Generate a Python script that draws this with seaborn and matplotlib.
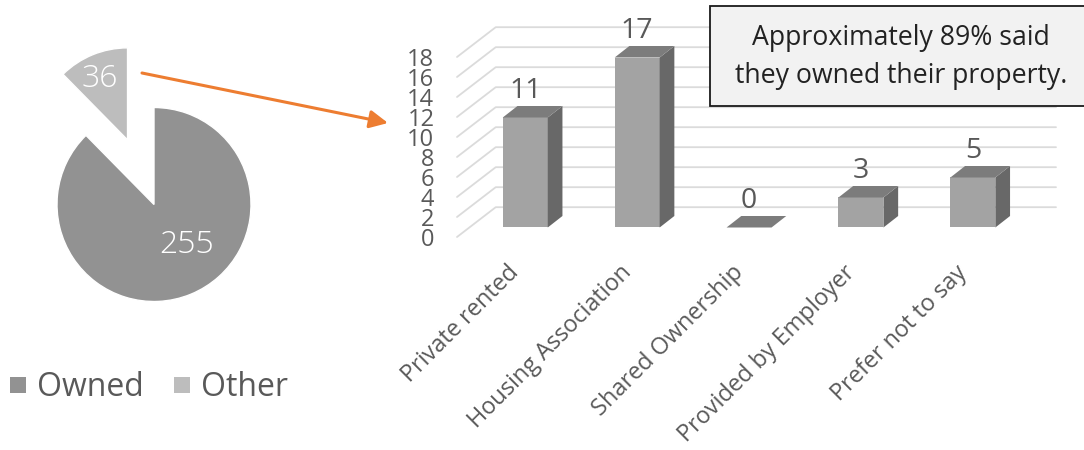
"""
Housing tenure: exploded pie of owned vs other, and a pseudo 3D bar chart
breaking down the "other" group.
"""

import matplotlib
matplotlib.use('Agg')
import matplotlib.pyplot as plt
import pandas as pd
import seaborn as sns
from matplotlib.lines import Line2D
from matplotlib.transforms import ScaledTranslation

pie_labels = ['Owned', 'Other']
pie_values = [255, 36]

categories = ['Private rented', 'Housing Association', 'Shared Ownership',
              'Provided by Employer', 'Prefer not to say']
values = [11, 17, 0, 3, 5]
y_ticks = [0, 2, 4, 6, 8, 10, 12, 14, 16, 18]

W, H = 1084, 450
GREY_TEXT = '#595959'
PIE_COLORS = ['#929292', '#BDBDBD']

sns.set_theme(style='white')
plt.rcParams['font.family'] = ['Open Sans', 'DejaVu Sans']

fig = plt.figure(figsize=(W / 100, H / 100), dpi=100, facecolor='white')


def px_axes(left, top, right, bottom):
    """Axes placed by pixel edges, y measured from the top of the figure."""
    return fig.add_axes([left / W, 1 - bottom / H, (right - left) / W, (bottom - top) / H])


# pie, one data unit is the 97 px radius
ax_pie = px_axes(0, 0, 420, 450)
wedges, _ = ax_pie.pie(pie_values, colors=PIE_COLORS, startangle=90,
                       counterclock=False, explode=[0, 0.72], radius=1)
wedges[1].set_radius(92 / 97)
ax_pie.set_xlim(-154 / 97, (420 - 154) / 97)
ax_pie.set_ylim((204.5 - 450) / 97, 204.5 / 97)

# bars, 111.9 px per category and 10 px per unit
ax = px_axes(457, 0, 1056, 237)
df = pd.DataFrame({'category': categories, 'value': values})
sns.barplot(data=df, x='category', y='value', color='#A3A3A3', saturation=1,
            width=0.402, ax=ax, zorder=3, linewidth=0)

DEPTH_X = 14.7 / 111.9
DEPTH_Y = 1.15
ax.set_xlim(-0.61, 4.743)
ax.set_ylim(-0.95, 22.75)

# wall and floor lines
for v in y_ticks:
    ax.plot([-0.61, -0.264, 4.743], [v - 0.95, v + 2.03, v + 2.03],
            color='#DBDBDB', lw=1.3, zorder=1, clip_on=False)

# side and top faces
for bar, v in zip(list(ax.patches), values):
    x0 = bar.get_x()
    x1 = x0 + bar.get_width()
    ax.fill([x1, x1 + DEPTH_X, x1 + DEPTH_X, x1], [0, DEPTH_Y, v + DEPTH_Y, v],
            color='#686868', lw=0, zorder=3)
    ax.fill([x0, x1, x1 + DEPTH_X, x0 + DEPTH_X], [v, v, v + DEPTH_Y, v + DEPTH_Y],
            color='#7C7C7C', lw=0, zorder=3)
    ax.text(x0 + bar.get_width() / 2, v + 1.95, str(v), ha='center', va='baseline',
            fontsize=20.5, color=GREY_TEXT, zorder=4)

sns.despine(ax=ax, left=True, bottom=True)
ax.set_xlabel('')
ax.set_ylabel('')
ax.patch.set_alpha(0)
ax.set_yticks([v - 0.95 for v in y_ticks], [str(v) for v in y_ticks])
ax.tick_params(axis='y', length=0, pad=16.3, labelsize=17, labelcolor=GREY_TEXT)
ax.set_xticks(range(len(categories)), categories)
ax.tick_params(axis='x', length=0, pad=17, labelsize=16.9, labelcolor=GREY_TEXT)
plt.setp(ax.get_xticklabels(), rotation=45, ha='right', rotation_mode='anchor')
shift = ScaledTranslation(-18 / 100, 0, fig.dpi_scale_trans)
for label in ax.get_xticklabels():
    label.set_transform(label.get_transform() + shift)

# overlay in pixel coordinates for the annotations
top = px_axes(0, 0, W, H)
top.set_xlim(0, W)
top.set_ylim(H, 0)
top.axis('off')

top.text(100, 79, str(pie_values[1]), ha='center', va='center', fontsize=23,
         color='white', fontweight='light')
top.text(187, 245, str(pie_values[0]), ha='center', va='center', fontsize=23,
         color='white', fontweight='light')

top.annotate('', xy=(388, 123), xytext=(142, 73),
             arrowprops=dict(arrowstyle='-|>,head_length=0.55,head_width=0.27', color='#ED7D31',
                             lw=2.2, mutation_scale=20, shrinkA=0, shrinkB=0))

top.add_patch(plt.Rectangle((710, 6), 400, 100, facecolor='#F2F2F2',
                            edgecolor='#1A1A1A', lw=1.3, clip_on=True))
top.text(901, 38, 'Approximately 89% said', ha='center', va='center', fontsize=19.2, color='#222222')
top.text(901, 76, 'they owned their property.', ha='center', va='center', fontsize=19.2, color='#222222')

handles = [Line2D([], [], linestyle='none', marker='s', markersize=11.5,
                  markeredgewidth=0, color=c) for c in PIE_COLORS]
fig.legend(handles, pie_labels, ncol=2, frameon=False, loc='center left',
           bbox_to_anchor=(10 / W, 1 - 388 / H), fontsize=23, labelcolor=GREY_TEXT,
           handlelength=0.5, handletextpad=0.35, columnspacing=0.95,
           borderpad=0, borderaxespad=0)

fig.savefig('out.png', dpi=100, facecolor='white')
